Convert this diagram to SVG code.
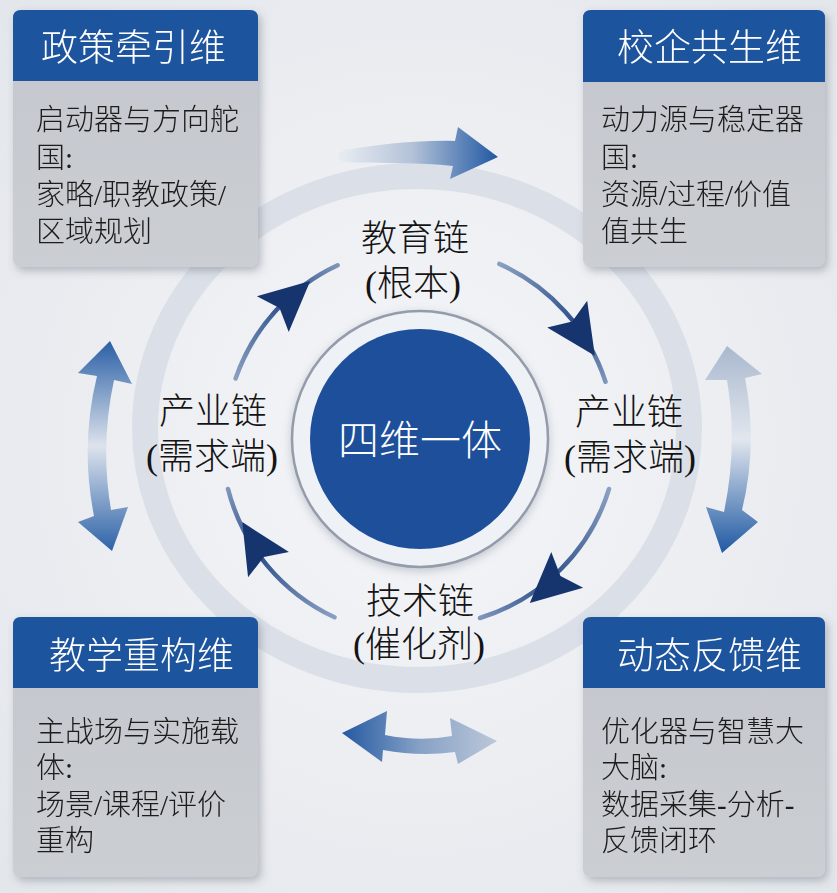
<svg xmlns="http://www.w3.org/2000/svg" xmlns:xlink="http://www.w3.org/1999/xlink" width="837" height="893" viewBox="0 0 837 893">
<style>
.title{font-family:'Noto Sans CJK SC',sans-serif;font-size:37px;font-weight:300;fill:#ffffff}
.body{font-family:'Liberation Serif','Noto Sans CJK SC',serif;font-size:29px;font-weight:300;fill:#1c1c1c}
.lbl{font-family:'Liberation Serif','Noto Sans CJK SC',serif;font-size:36px;font-weight:300;fill:#141414;text-anchor:middle}
.hdr{fill:#1f549e}
.card{fill:url(#gCard)}
.arc{fill:none;stroke-width:4.5;stroke-linecap:round}
.ihead{fill:#16346d}
</style>
<defs>
<radialGradient id="gBg" cx="50%" cy="50%" r="70%">
<stop offset="0" stop-color="#f5f6f9"/>
<stop offset="1" stop-color="#e3e6eb"/>
</radialGradient>
<linearGradient id="gCard" x1="0" y1="0" x2="0" y2="1">
<stop offset="0" stop-color="#c3c6cc"/>
<stop offset="1" stop-color="#cbced3"/>
</linearGradient>
<filter id="sh" x="-10%" y="-10%" width="130%" height="130%">
<feDropShadow dx="3" dy="4" stdDeviation="4" flood-color="#4f5866" flood-opacity="0.35"/>
</filter>
<filter id="glow" x="-20%" y="-20%" width="140%" height="140%">
<feDropShadow dx="0" dy="3" stdDeviation="5" flood-color="#7a8494" flood-opacity="0.4"/>
</filter>
<linearGradient id="gTop" gradientUnits="userSpaceOnUse" x1="343" y1="0" x2="497" y2="0">
<stop offset="0" stop-color="#e6eaf1"/>
<stop offset="0.45" stop-color="#b3c2d8"/>
<stop offset="1" stop-color="#2259a3"/>
</linearGradient>
<linearGradient id="gRight" gradientUnits="userSpaceOnUse" x1="0" y1="346" x2="0" y2="553">
<stop offset="0" stop-color="#a9b8ce"/>
<stop offset="0.45" stop-color="#e2e7ee"/>
<stop offset="1" stop-color="#1f59a3"/>
</linearGradient>
<linearGradient id="gLeft" gradientUnits="userSpaceOnUse" x1="0" y1="341" x2="0" y2="551">
<stop offset="0" stop-color="#2a5fa6"/>
<stop offset="0.5" stop-color="#dde3ec"/>
<stop offset="1" stop-color="#2d62a8"/>
</linearGradient>
<linearGradient id="gBot" gradientUnits="userSpaceOnUse" x1="342" y1="0" x2="497" y2="0">
<stop offset="0" stop-color="#2459a2"/>
<stop offset="0.5" stop-color="#86a1c6"/>
<stop offset="1" stop-color="#bcc8d9"/>
</linearGradient>
<linearGradient id="gA1" gradientUnits="userSpaceOnUse" x1="236" y1="378" x2="338" y2="265">
<stop offset="0" stop-color="#8aa0c2"/>
<stop offset="0.6" stop-color="#2b4d88"/>
<stop offset="1" stop-color="#7f96bb"/>
</linearGradient>
<linearGradient id="gA2" gradientUnits="userSpaceOnUse" x1="499" y1="264" x2="606" y2="382">
<stop offset="0" stop-color="#8aa0c2"/>
<stop offset="0.6" stop-color="#2b4d88"/>
<stop offset="1" stop-color="#7f96bb"/>
</linearGradient>
<linearGradient id="gA3" gradientUnits="userSpaceOnUse" x1="609" y1="489" x2="480" y2="618">
<stop offset="0" stop-color="#8aa0c2"/>
<stop offset="0.6" stop-color="#2b4d88"/>
<stop offset="1" stop-color="#7f96bb"/>
</linearGradient>
<linearGradient id="gA4" gradientUnits="userSpaceOnUse" x1="335" y1="617" x2="228" y2="489">
<stop offset="0" stop-color="#8aa0c2"/>
<stop offset="0.6" stop-color="#2b4d88"/>
<stop offset="1" stop-color="#7f96bb"/>
</linearGradient>
<path id="ah" d="M0,-24 L50,0 L0,24 L9,0 Z"/>
</defs>

<rect x="0" y="0" width="837" height="893" fill="url(#gBg)"/>
<ellipse cx="417" cy="428" rx="272" ry="252" fill="none" stroke="#dbe0e8" stroke-width="26"/>

<g id="connectors">
<path d="M455 141 L458 127 L498 157 L450 179 L453 166 C420 162 380 164 346 162 C336 161 336 151 346 150 C380 144 420 140 455 141 Z" fill="url(#gTop)"/>
<path d="M727 346 L762 374 L745 378 Q758 445 742 510 L758 522 L722 553 L706 507 L724 512 Q738 445 727 380 L705 380 Z" fill="url(#gRight)"/>
<path d="M110 341 L132 384 L114 380 Q100 445 111 510 L128 507 L112 551 L78 522 L94 516 Q80 445 97 376 L78 373 Z" fill="url(#gLeft)"/>
<path d="M342 733 L387 711 L385 735 Q420 742 452 736 L450 718 L497 741 L458 764 L455 752 Q420 757 383 750 L382 762 Z" fill="url(#gBot)"/>

<path class="arc" stroke="url(#gA1)" d="M235.6 378.5 A195 195 0 0 1 337.6 265.3"/>
<path class="arc" stroke="url(#gA2)" d="M499.3 263.9 A195 195 0 0 1 605.5 381.7"/>
<path class="arc" stroke="url(#gA3)" d="M609 489 A195 195 0 0 1 480 618"/>
<path class="arc" stroke="url(#gA4)" d="M334.5 617.3 A195 195 0 0 1 228 489"/>
<use href="#ah" class="ihead" transform="translate(272.8,314.1) rotate(-41.6)"/>
<use href="#ah" class="ihead" transform="translate(567.2,314.1) rotate(56.4)"/>
<use href="#ah" class="ihead" transform="translate(567.2,569.9) rotate(138.4)"/>
<use href="#ah" class="ihead" transform="translate(268.5,564.7) rotate(238.4)"/>
</g>

<g id="center">
<circle cx="420" cy="439" r="128" fill="#eef1f5" stroke="#949cab" stroke-width="2.5" filter="url(#glow)"/>
<circle cx="420" cy="439" r="110" fill="#1e4f9b"/>
<text x="420" y="455" font-family="'Noto Sans CJK SC',sans-serif" font-size="41" font-weight="300" fill="#ffffff" text-anchor="middle">四维一体</text>
</g>

<g id="label-edu">
<text class="lbl" x="415" y="251">教育链</text>
<text class="lbl" x="413" y="296">(根本)</text>
</g>
<g id="label-ind-left">
<text class="lbl" x="213" y="424">产业链</text>
<text class="lbl" x="212" y="469">(需求端)</text>
</g>
<g id="label-ind-right">
<text class="lbl" x="629" y="425">产业链</text>
<text class="lbl" x="630" y="470">(需求端)</text>
</g>
<g id="label-tech">
<text class="lbl" x="420" y="614">技术链</text>
<text class="lbl" x="419" y="657">(催化剂)</text>
</g>

<g id="box-policy" filter="url(#sh)">
<rect x="13" y="10" width="245" height="257" rx="8" class="card"/>
<path class="hdr" d="M13 18 Q13 10 21 10 L250 10 Q258 10 258 18 L258 81 L13 81 Z"/>
<text class="title" x="41" y="61">政策牵引维</text>
<text class="body" x="36" y="130">启动器与方向舵</text>
<text class="body" x="36" y="168">国:</text>
<text class="body" x="36" y="205">家略/职教政策/</text>
<text class="body" x="36" y="242">区域规划</text>
</g>

<g id="box-school" filter="url(#sh)">
<rect x="583" y="10" width="242" height="257" rx="8" class="card"/>
<path class="hdr" d="M583 18 Q583 10 591 10 L817 10 Q825 10 825 18 L825 82 L583 82 Z"/>
<text class="title" x="617" y="61">校企共生维</text>
<text class="body" x="601" y="130">动力源与稳定器</text>
<text class="body" x="601" y="168">国:</text>
<text class="body" x="601" y="205">资源/过程/价值</text>
<text class="body" x="601" y="242">值共生</text>
</g>

<g id="box-teach" filter="url(#sh)">
<rect x="13" y="617" width="245" height="260" rx="8" class="card"/>
<path class="hdr" d="M13 625 Q13 617 21 617 L250 617 Q258 617 258 625 L258 688 L13 688 Z"/>
<text class="title" x="49" y="669">教学重构维</text>
<text class="body" x="36" y="742">主战场与实施载</text>
<text class="body" x="36" y="778">体:</text>
<text class="body" x="36" y="815">场景/课程/评价</text>
<text class="body" x="36" y="851">重构</text>
</g>

<g id="box-feedback" filter="url(#sh)">
<rect x="583" y="617" width="242" height="260" rx="8" class="card"/>
<path class="hdr" d="M583 625 Q583 617 591 617 L817 617 Q825 617 825 625 L825 688 L583 688 Z"/>
<text class="title" x="617" y="669">动态反馈维</text>
<text class="body" x="601" y="742">优化器与智慧大</text>
<text class="body" x="601" y="778">大脑:</text>
<text class="body" x="601" y="815">数据采集-分析-</text>
<text class="body" x="601" y="851">反馈闭环</text>
</g>
</svg>
